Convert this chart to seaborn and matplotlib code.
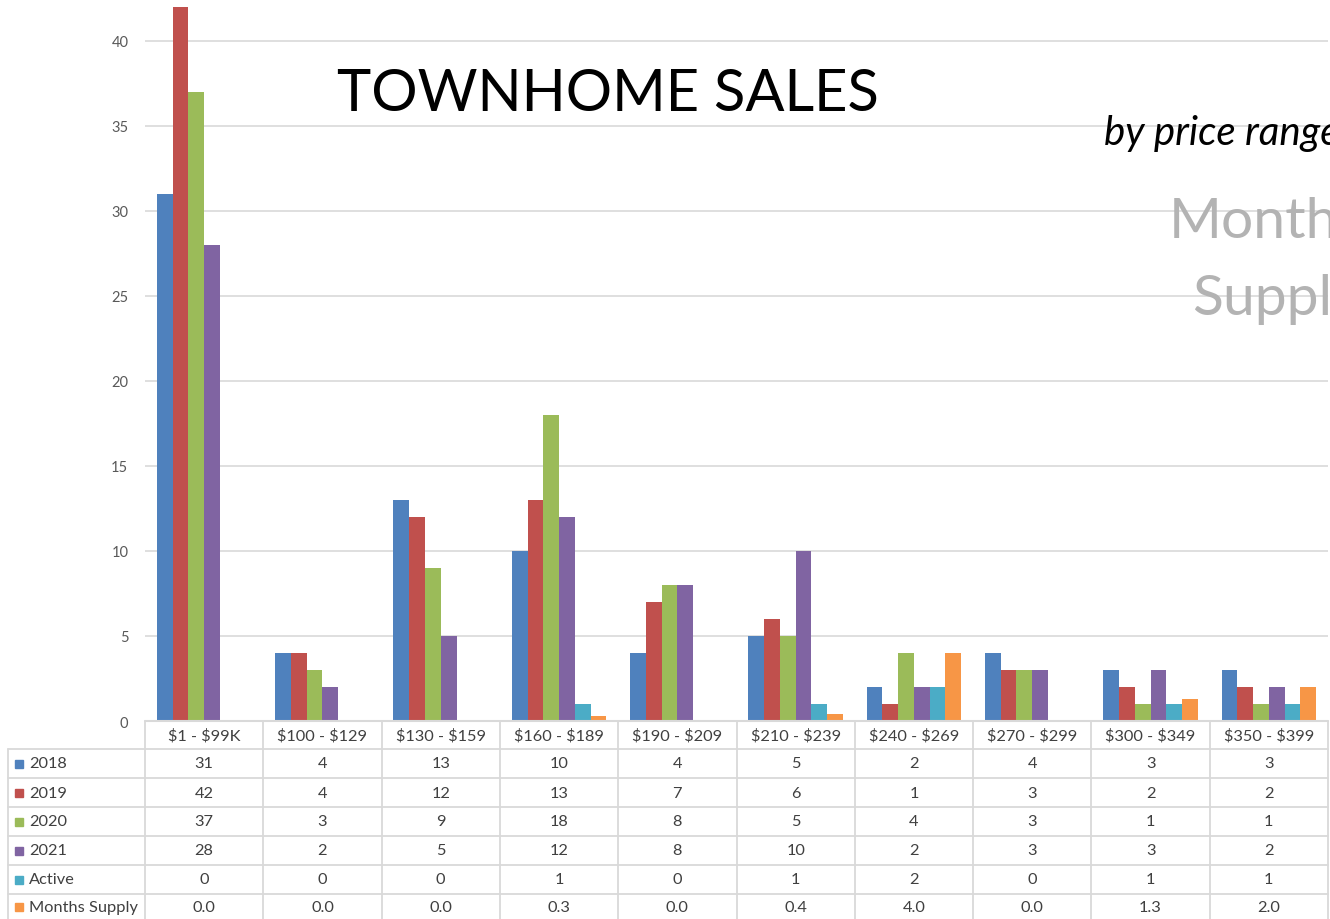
import matplotlib
matplotlib.use("Agg")
import matplotlib.pyplot as plt
import seaborn as sns
import pandas as pd
from matplotlib.lines import Line2D
from matplotlib.patches import Rectangle

categories = ["$1 - $99K", "$100 - $129", "$130 - $159", "$160 - $189", "$190 - $209",
              "$210 - $239", "$240 - $269", "$270 - $299", "$300 - $349", "$350 - $399"]
s2018 = [31, 4, 13, 10, 4, 5, 2, 4, 3, 3]
s2019 = [42, 4, 12, 13, 7, 6, 1, 3, 2, 2]
s2020 = [37, 3, 9, 18, 8, 5, 4, 3, 1, 1]
s2021 = [28, 2, 5, 12, 8, 10, 2, 3, 3, 2]
active = [0, 0, 0, 1, 0, 1, 2, 0, 1, 1]
months_supply = [0.0, 0.0, 0.0, 0.3, 0.0, 0.4, 4.0, 0.0, 1.3, 2.0]
series_names = ["2018", "2019", "2020", "2021", "Active", "Months Supply"]
series_values = [s2018, s2019, s2020, s2021, active, months_supply]
colors = ["#4F81BD", "#C0504D", "#9BBB59", "#8064A2", "#4BACC6", "#F79646"]
y_ticks = [0, 5, 10, 15, 20, 25, 30, 35, 40]

rows = []
for name, vals in zip(series_names, series_values):
    for c, v in zip(categories, vals):
        rows.append({"range": c, "series": name, "value": v})
df = pd.DataFrame(rows)

sns.set_theme(style="white")
plt.rcParams["font.family"] = ["Lato", "DejaVu Sans"]

W, H = 1330, 920
fig = plt.figure(figsize=(13.3, 9.2), dpi=100)

def fx(px):
    return px / W

def fy(py):
    return 1 - py / H

ax_left, ax_right, ax_top, ax_bottom = 145, 1328, 0, 722
ax = fig.add_axes([fx(ax_left), fy(ax_bottom), fx(ax_right - ax_left), (ax_bottom - ax_top) / H])
sns.barplot(data=df, x="range", y="value", hue="series", hue_order=series_names,
            order=categories, palette=colors, saturation=1, width=0.8,
            linewidth=0, legend=False, ax=ax, errorbar=None)
ax.set_xlim(-0.5, len(categories) - 0.5)
ax.set_ylim(0, 42.47)
ax.set_yticks(y_ticks)
ax.yaxis.grid(True, color="#d9d9d9", linewidth=1.2)
ax.set_axisbelow(True)
for s in ax.spines.values():
    s.set_visible(False)
ax.set_xlabel("")
ax.set_ylabel("")
ax.set_xticks([])
ax.tick_params(axis="y", length=0, pad=12, labelsize=10.5, labelcolor="#595959")

# Data table
line_col = "#d9d9d9"
row_edges = [722, 750, 779, 808, 837, 866, 895, 924]
col_w = (ax_right - ax_left) / len(categories)
col_edges = [ax_left + i * col_w for i in range(len(categories) + 1)]
tcol = "#404040"
fs = 11.8

fig.add_artist(Line2D([fx(ax_left), fx(ax_right)], [fy(722), fy(722)], color=line_col, lw=1.5))
for yy in row_edges[1:-1]:
    fig.add_artist(Line2D([fx(8), fx(ax_right)], [fy(yy), fy(yy)], color=line_col, lw=1.3))
for xx in col_edges:
    fig.add_artist(Line2D([fx(xx), fx(xx)], [fy(722), fy(920)], color=line_col, lw=1.3))
fig.add_artist(Line2D([fx(8), fx(8)], [fy(750), fy(920)], color=line_col, lw=1.3))

for i, c in enumerate(categories):
    cx = (col_edges[i] + col_edges[i + 1]) / 2
    fig.text(fx(cx), fy(736), c, ha="center", va="center", fontsize=fs, color=tcol,
             parse_math=False)

for r, (name, vals, col) in enumerate(zip(series_names, series_values, colors)):
    cy = (row_edges[r + 1] + row_edges[r + 2]) / 2
    if r == len(series_names) - 1:
        cy = 908
    fig.add_artist(Rectangle((fx(15), fy(cy + 4)), 8 / W, 8 / H, color=col,
                             transform=fig.transFigure))
    fig.text(fx(29), fy(cy), name, ha="left", va="center", fontsize=fs, color=tcol)
    for i, v in enumerate(vals):
        cx = (col_edges[i] + col_edges[i + 1]) / 2
        txt = f"{v:.1f}" if name == "Months Supply" else f"{int(v)}"
        fig.text(fx(cx), fy(cy), txt, ha="center", va="center", fontsize=fs, color=tcol)

fig.text(fx(337), fy(111), "TOWNHOME SALES", ha="left", va="baseline",
         fontsize=41.7, color="black")
fig.text(fx(1104), fy(145), "by price range", ha="left", va="baseline",
         fontsize=29, style="italic", color="black")
fig.text(fx(1169), fy(238), "Months", ha="left", va="baseline",
         fontsize=41, color="#b3b3b3")
fig.text(fx(1192), fy(315), "Supply", ha="left", va="baseline",
         fontsize=41, color="#b3b3b3")

fig.savefig("out.png", dpi=100, facecolor="white")
